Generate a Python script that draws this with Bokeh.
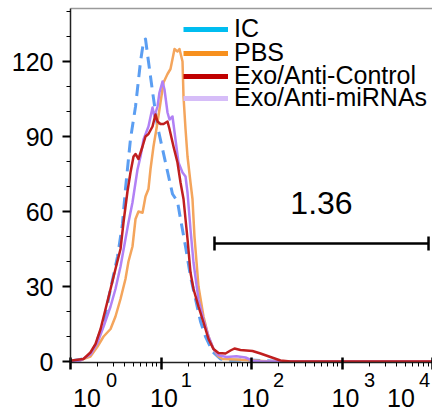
from bokeh.plotting import figure
from bokeh.models import (LogAxis, FixedTicker, Range1d, Legend, LegendItem,
                          Whisker, TeeHead, ColumnDataSource, Label)
from bokeh.embed import file_html
from bokeh.resources import INLINE

FONT = "Liberation Sans"

# ---------------- data ----------------
series_names = ["IC", "PBS", "Exo/Anti-Control", "Exo/Anti-miRNAs"]

ic_x = [1, 1.29, 1.465, 1.66, 1.80, 1.99, 2.26, 2.50, 2.77, 3.31, 3.75, 4.05,
        4.60, 5.23, 5.94, 6.41, 6.74, 7.27, 8.06, 9.15, 10.39, 11.80, 13.40,
        15.21, 16.43, 18.66, 21.18, 24.05, 27.33, 31.02, 37.1, 45.4, 58.6,
        97.7, 142, 209, 10000]
ic_y = [0.2, 0.8, 1.5, 3, 5, 9, 14, 21, 29, 42, 55, 69,
        89, 102, 120, 128, 129, 120, 108, 94, 85, 76, 67,
        64, 57, 46, 34, 25, 16, 10, 4, 1, 0.5,
        0.6, 0.3, 0, 0]

pbs_x = [1, 1.29, 1.66, 1.99, 2.32, 2.77, 3.14, 3.57, 4.05, 4.37, 4.84, 5.23,
         5.64, 6.25, 6.74, 7.27, 7.66, 8.26, 9.15, 9.87, 10.66, 11.80, 12.73,
         13.40, 14.10, 15.21, 16.00, 17.29, 17.73, 18.66, 19.63, 21.18, 22.28,
         23.44, 24.67, 25.96, 29.49, 33.5, 38.0, 43.2, 47.8, 66.6, 97.7, 162,
         10000]
pbs_y = [0.2, 0.6, 2, 6, 10, 13, 18, 25, 33, 40, 46, 57,
         60, 59.5, 66, 69, 77, 86, 95.6, 103.6, 111.6, 115, 117,
         121, 125, 124, 125, 120, 106, 93, 82, 71.6, 65,
         50, 40, 30, 18, 10, 5, 2, 1, 0.8, 0.5, 0,
         0]

ctrl_x = [1, 1.136, 1.39, 1.66, 1.89, 2.15, 2.44, 2.77, 3.14, 3.57, 3.85, 4.26,
          4.60, 4.97, 5.23, 5.64, 6.25, 6.74, 7.27, 8.06, 8.69, 9.15, 9.87,
          10.66, 11.80, 12.41, 13.74, 15.21, 16.43, 17.73, 19.63, 21.18, 22.86,
          25.96, 29.49, 33.5, 38.0, 43.2, 51.6, 58.6, 64.9, 75.5, 102.6, 125.7,
          162, 209, 270, 10000]
ctrl_y = [0.3, 0.6, 1, 3.6, 7, 13, 21, 29, 37, 45, 55.6, 68,
          75.6, 82, 83, 81, 86, 90, 91, 94, 98.8, 96, 95,
          95, 96, 93, 86, 79.6, 71.6, 65, 49, 35.6, 29,
          22, 15.6, 9, 5, 3.4, 3.2, 4.4, 5.2, 4.6, 4.2, 3.2,
          1.8, 0.4, 0, 0]

mir_x = [1, 1.29, 1.66, 1.99, 2.32, 2.77, 3.14, 3.57, 4.05, 4.37, 4.84, 5.10,
         5.50, 5.94, 6.41, 7.27, 8.06, 8.47, 9.15, 9.62, 10.39, 10.93, 11.80,
         12.41, 13.40, 14.46, 15.60, 17.29, 18.66, 19.63, 21.18, 22.86, 25.96,
         29.49, 33.5, 38.0, 43.2, 52.9, 68.3, 85.9, 102.6, 125.7, 10000]
mir_y = [0.1, 0.4, 2.8, 7.6, 14, 22, 29, 38, 49, 55.6, 63.6, 69,
         76.8, 82, 88.8, 94, 101.6, 98, 102, 107.6, 112, 108.8, 99.6,
         96.8, 98, 88.8, 79.6, 75.6, 74, 67.6, 52.8, 39.6, 24.8,
         16.8, 10, 5, 2.5, 1.8, 2.1, 1.6, 0.3, 0, 0]

line_colors = ["#5b9ef2", "#f4a55c", "#c01f1f", "#b181f5"]
legend_colors = ["#00bdf0", "#f7901e", "#c00000", "#d6bdf8"]

gate_x = [39.0, 9040.0]
gate_y = [47.2]
gate_label = "1.36"
gate_label_y = 63.5

y_major = [0, 30, 60, 90, 120]
y_minor = [10, 20, 40, 50, 70, 80, 100, 110, 130, 140]
x_major = [1, 10, 100, 1000, 10000]
x_minor = [m * d for d in (1, 10, 100, 1000) for m in range(2, 10)]
exp_pos = [2.84, 19.1, 199.0, 2014.0, 8165.0]
exp_text = ["0", "1", "2", "3", "4"]
base_pos = [1.52, 10.8, 110.7, 1093.0, 4487.0]
base_text = ["10", "10", "10", "10", "10"]

# legend rows: offset (px) of each one-item legend from the frame's bottom-left
legend_x = 113
legend_rows_y = [319, 295, 272, 250]

# ---------------- figure ----------------
p = figure(width=432, height=413, x_axis_type="log",
           x_range=Range1d(1, 10000), y_range=Range1d(-0.4, 141.2),
           output_backend="svg", toolbar_location=None,
           min_border_left=70, min_border_right=0, min_border_top=8,
           min_border_bottom=51)
p.outline_line_color = None
p.grid.visible = False
p.background_fill_color = "white"

# y axis
ya = p.yaxis[0]
ya.ticker = FixedTicker(ticks=y_major, minor_ticks=y_minor)
ya.major_label_text_font = FONT
ya.major_label_text_font_size = "25px"
ya.major_label_text_color = "black"
ya.major_tick_in = 0
ya.major_tick_out = 8
ya.major_tick_line_width = 2
ya.minor_tick_in = 0
ya.minor_tick_out = 4
ya.major_label_standoff = 9
ya.axis_line_width = 1.5
ya.axis_line_color = "#222222"

# main x axis (ticks only)
xa = p.xaxis[0]
xa.ticker = FixedTicker(ticks=x_major, minor_ticks=x_minor)
xa.major_tick_in = 5
xa.major_tick_out = 7
xa.major_tick_line_width = 2.5
xa.minor_tick_in = 0
xa.minor_tick_out = 4
xa.major_label_text_font_size = "0px"
xa.major_label_standoff = 0
xa.major_label_overrides = {v: "" for v in x_major}
xa.axis_line_width = 1.5
xa.axis_line_color = "#222222"


def label_axis(pos, texts, size, standoff):
    return LogAxis(ticker=FixedTicker(ticks=pos, minor_ticks=[]),
                   major_label_overrides=dict(zip(pos, texts)),
                   major_tick_in=0, major_tick_out=0,
                   minor_tick_in=0, minor_tick_out=0,
                   axis_line_color=None,
                   major_label_standoff=standoff,
                   major_label_text_font=FONT,
                   major_label_text_font_size=size,
                   major_label_text_color="black")


p.add_layout(label_axis(exp_pos, exp_text, "20px", 3), "below")
p.add_layout(label_axis(base_pos, base_text, "25px", -1), "below")

top = LogAxis(ticker=FixedTicker(ticks=[], minor_ticks=[]),
              major_tick_in=0, major_tick_out=0, minor_tick_in=0, minor_tick_out=0,
              major_label_text_font_size="0px", axis_line_color="#9a9a9a",
              axis_line_width=1.5)
p.add_layout(top, "above")

# histograms
xs = [ic_x, pbs_x, ctrl_x, mir_x]
ys = [ic_y, pbs_y, ctrl_y, mir_y]
order = [0, 1, 3, 2]
for i in order:
    kw = dict(line_width=2.5, line_color=line_colors[i], line_join="round")
    if i == 0:
        kw["line_dash"] = "12 7"
        kw["line_width"] = 3
    p.line(xs[i], ys[i], **kw)

# legend: one single-item legend per row (swatch renderers draw nothing in the plot)
for i, (name, col) in enumerate(zip(series_names, legend_colors)):
    r = p.line(xs[i], [float("nan")] * len(xs[i]), line_color=col, line_width=5)
    lg = Legend(items=[LegendItem(label=name, renderers=[r])],
                location=(legend_x, legend_rows_y[i]),
                label_text_font=FONT, label_text_font_size="25px",
                label_text_color="black",
                glyph_width=45, glyph_height=20, label_height=20,
                spacing=0, padding=0, margin=0, label_standoff=6,
                border_line_color=None, background_fill_alpha=0)
    p.add_layout(lg)

# gate
gsrc = ColumnDataSource(dict(base=gate_y, lower=[gate_x[0]], upper=[gate_x[1]]))
wh = Whisker(source=gsrc, base="base", lower="lower", upper="upper",
             dimension="width", line_width=2.5, line_color="black",
             lower_head=TeeHead(size=14, line_width=2.5, line_color="black"),
             upper_head=TeeHead(size=14, line_width=2.5, line_color="black"))
p.add_layout(wh)
gate_center = (gate_x[0] * gate_x[1]) ** 0.5
p.add_layout(Label(x=gate_center, y=gate_label_y, text=gate_label,
                   text_align="center", text_baseline="alphabetic",
                   text_font=FONT, text_font_size="32px", text_color="black"))

open("out.html", "w").write(file_html(p, INLINE))
